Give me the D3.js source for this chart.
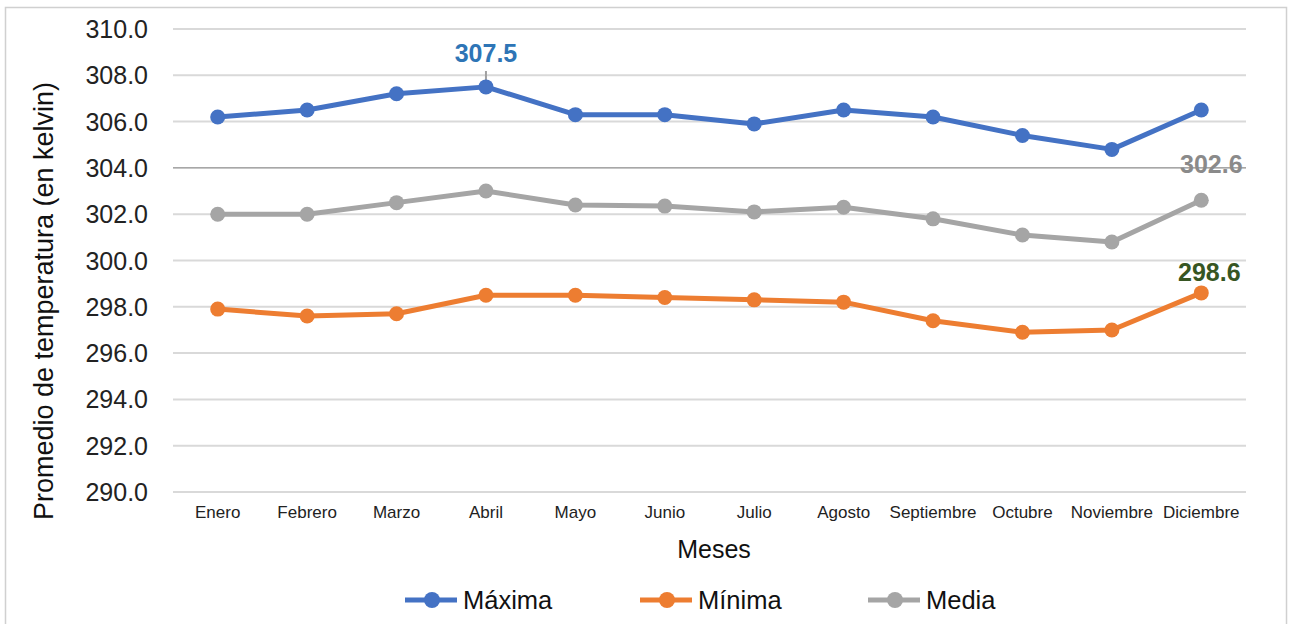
<!DOCTYPE html>
<html>
<head>
<meta charset="utf-8">
<script src="https://cdn.jsdelivr.net/npm/d3@7"></script>
<style>
  body { margin: 0; background: #fff; }
  text { font-family: "Liberation Sans", Arial, sans-serif; }
</style>
</head>
<body>
<script>
// data
const months = ['Enero', 'Febrero', 'Marzo', 'Abril', 'Mayo', 'Junio', 'Julio',
  'Agosto', 'Septiembre', 'Octubre', 'Noviembre', 'Diciembre'];
const maxima = [306.2, 306.5, 307.2, 307.5, 306.3, 306.3, 305.9, 306.5, 306.2, 305.4, 304.8, 306.5];
const minima = [297.9, 297.6, 297.7, 298.5, 298.5, 298.4, 298.3, 298.2, 297.4, 296.9, 297.0, 298.6];
const media = [302.0, 302.0, 302.5, 303.0, 302.4, 302.35, 302.1, 302.3, 301.8, 301.1, 300.8, 302.6];
const yTicks = [290, 292, 294, 296, 298, 300, 302, 304, 306, 308, 310];

const series = [
  { name: 'Máxima', values: maxima, color: '#4472C4' },
  { name: 'Mínima', values: minima, color: '#ED7D31' },
  { name: 'Media', values: media, color: '#A5A5A5' }
];

const width = 1291, height = 624;
const svg = d3.select('body').append('svg')
  .attr('width', width)
  .attr('height', height);

// outer chart border
svg.append('rect')
  .attr('x', 5.5).attr('y', 7.5)
  .attr('width', 1281).attr('height', 630)
  .attr('fill', 'none')
  .attr('stroke', '#d0d0d0')
  .attr('stroke-width', 1.5);

const x = d3.scaleBand().domain(months).range([173, 1246]);
const y = d3.scaleLinear().domain([290, 310]).range([492, 29]);

// gridlines
svg.append('g').selectAll('line')
  .data(yTicks)
  .enter()
  .append('line')
  .attr('x1', 173).attr('x2', 1246)
  .attr('y1', d => y(d)).attr('y2', d => y(d))
  .attr('stroke', d => d == 304 ? '#6e6e6e' : '#d9d9d9')
  .attr('stroke-width', d => d == 304 ? 1 : 2);

// y axis labels
svg.append('g').selectAll('text')
  .data(yTicks)
  .enter()
  .append('text')
  .attr('x', 148)
  .attr('y', d => y(d))
  .attr('dy', '0.36em')
  .attr('text-anchor', 'end')
  .attr('font-size', 25)
  .attr('fill', '#222')
  .text(d => d.toFixed(1));

// x axis labels
svg.append('g').selectAll('text')
  .data(months)
  .enter()
  .append('text')
  .attr('x', d => x(d) + x.bandwidth() / 2)
  .attr('y', 518)
  .attr('text-anchor', 'middle')
  .attr('font-size', 17)
  .attr('fill', '#222')
  .text(d => d);

// axis titles
svg.append('text')
  .attr('transform', 'translate(53,301) rotate(-90)')
  .attr('text-anchor', 'middle')
  .attr('font-size', 27)
  .attr('fill', '#111')
  .text('Promedio de temperatura (en kelvin)');

svg.append('text')
  .attr('x', 714).attr('y', 558)
  .attr('text-anchor', 'middle')
  .attr('font-size', 25)
  .attr('fill', '#111')
  .text('Meses');

const cx = (d, i) => x(months[i]) + x.bandwidth() / 2;
const line = d3.line().x(cx).y(d => y(d));

// leader line for the Abril label
svg.append('line')
  .attr('x1', cx(0, 3)).attr('x2', cx(0, 3))
  .attr('y1', 71).attr('y2', y(maxima[3]))
  .attr('stroke', '#a0a0a0')
  .attr('stroke-width', 2);

series.forEach(function(s) {
  svg.append('path')
    .attr('d', line(s.values))
    .attr('fill', 'none')
    .attr('stroke', s.color)
    .attr('stroke-width', 5)
    .attr('stroke-linejoin', 'round');

  svg.append('g').selectAll('circle')
    .data(s.values)
    .enter()
    .append('circle')
    .attr('cx', cx)
    .attr('cy', d => y(d))
    .attr('r', 7.5)
    .attr('fill', s.color);
});

// data labels
const labels = [
  { i: 3, v: maxima[3], dx: 0, dy: -25, color: '#2E75B6' },
  { i: 11, v: media[11], dx: 10, dy: -27, color: '#8a8a8a' },
  { i: 11, v: minima[11], dx: 8, dy: -12, color: '#375623' }
];
svg.append('g').selectAll('text')
  .data(labels)
  .enter()
  .append('text')
  .attr('x', d => cx(0, d.i) + d.dx)
  .attr('y', d => y(d.v) + d.dy)
  .attr('text-anchor', 'middle')
  .attr('font-size', 25)
  .attr('font-weight', 'bold')
  .attr('fill', d => d.color)
  .text(d => d.v.toFixed(1));

// legend
const legendX = [405, 640, 868];
const legend = svg.append('g').selectAll('g')
  .data(series)
  .enter()
  .append('g')
  .attr('transform', (d, i) => 'translate(' + legendX[i] + ',600)');

legend.append('line')
  .attr('x1', 0).attr('x2', 52)
  .attr('stroke', d => d.color)
  .attr('stroke-width', 5);
legend.append('circle')
  .attr('cx', 27).attr('r', 8)
  .attr('fill', d => d.color);
legend.append('text')
  .attr('x', 58)
  .attr('dy', '0.34em')
  .attr('font-size', 25.5)
  .attr('fill', '#111')
  .text(d => d.name);
</script>
</body>
</html>
